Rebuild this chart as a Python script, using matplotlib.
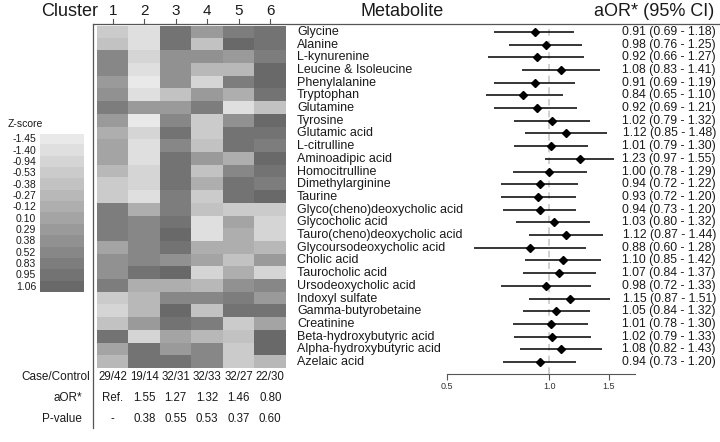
import numpy as np
import matplotlib
matplotlib.use("Agg")
from matplotlib import pyplot as plt
from matplotlib.colors import ListedColormap, BoundaryNorm
from matplotlib.lines import Line2D
from matplotlib.ticker import FixedLocator, NullLocator
import matplotlib.transforms as mtransforms

plt.rcParams["font.family"] = ["Liberation Sans", "DejaVu Sans"]

W, H = 720, 442

metabolites = ["Glycine", "Alanine", "L-kynurenine", "Leucine & Isoleucine", "Phenylalanine",
               "Tryptophan", "Glutamine", "Tyrosine", "Glutamic acid", "L-citrulline",
               "Aminoadipic acid", "Homocitrulline", "Dimethylarginine", "Taurine",
               "Glyco(cheno)deoxycholic acid", "Glycocholic acid", "Tauro(cheno)deoxycholic acid",
               "Glycoursodeoxycholic acid", "Cholic acid", "Taurocholic acid",
               "Ursodeoxycholic acid", "Indoxyl sulfate", "Gamma-butyrobetaine", "Creatinine",
               "Beta-hydroxybutyric acid", "Alpha-hydroxybutyric acid", "Azelaic acid"]

aor = [0.91, 0.98, 0.92, 1.08, 0.91, 0.84, 0.92, 1.02, 1.12, 1.01, 1.23, 1.00, 0.94, 0.93,
       0.94, 1.03, 1.12, 0.88, 1.10, 1.07, 0.98, 1.15, 1.05, 1.01, 1.02, 1.08, 0.94]
ci_low = [0.69, 0.76, 0.66, 0.83, 0.69, 0.65, 0.69, 0.79, 0.85, 0.79, 0.97, 0.78, 0.72, 0.72,
          0.73, 0.80, 0.87, 0.60, 0.85, 0.84, 0.72, 0.87, 0.84, 0.78, 0.79, 0.82, 0.73]
ci_high = [1.18, 1.25, 1.27, 1.41, 1.19, 1.10, 1.21, 1.32, 1.48, 1.30, 1.55, 1.29, 1.22, 1.20,
           1.20, 1.32, 1.44, 1.28, 1.42, 1.37, 1.33, 1.51, 1.32, 1.30, 1.33, 1.43, 1.20]

clusters = ["1", "2", "3", "4", "5", "6"]
case_control = ["29/42", "19/14", "32/31", "32/33", "32/27", "22/30"]
cluster_aor = ["Ref.", "1.55", "1.27", "1.32", "1.46", "0.80"]
p_values = ["-", "0.38", "0.55", "0.53", "0.37", "0.60"]

z_levels = [-1.45, -1.40, -0.94, -0.53, -0.38, -0.27, -0.12, 0.10, 0.29, 0.38, 0.52, 0.83, 0.95, 1.06]

# z-scores per metabolite (rows) and cluster (columns)
zscores = [
    [-0.53, -1.40, 0.95, 0.29, 0.83, 0.95],
    [-0.38, -1.40, 0.95, -0.38, 1.06, 0.95],
    [0.52, -0.94, 0.38, 0.38, 0.29, 0.83],
    [0.52, -1.40, 0.38, -0.27, -0.27, 1.06],
    [0.29, -1.45, 0.38, -0.94, 0.83, 1.06],
    [0.38, -1.40, -0.38, 0.29, -0.12, 0.95],
    [0.83, 0.29, 0.29, 0.83, -1.40, -0.38],
    [0.29, -1.45, 0.52, -0.53, 0.38, 1.06],
    [-0.12, -0.94, 0.95, -0.53, 0.95, 0.95],
    [0.10, -1.40, 0.52, -0.38, 0.95, 0.83],
    [0.10, -1.40, 0.95, 0.29, -0.12, 1.06],
    [-0.27, -0.94, 0.95, -0.38, 0.52, 0.95],
    [-0.53, -0.94, 0.95, -0.12, 0.95, 0.83],
    [-0.53, -1.40, 0.83, -0.53, 0.95, 1.06],
    [0.83, -0.12, 0.83, -0.38, -0.53, -0.53],
    [0.83, 0.52, 0.95, -1.40, 0.10, -0.94],
    [0.83, 0.52, 1.06, -1.40, -0.12, -0.94],
    [0.10, 0.52, 0.95, -0.12, -0.12, -0.27],
    [0.38, 0.52, 0.38, 0.10, -0.38, 0.29],
    [0.38, 0.95, 1.06, -0.94, -0.12, -0.94],
    [0.83, -0.12, -0.12, -0.27, 0.38, 0.52],
    [-0.53, -0.27, 0.52, 0.52, 0.83, 0.29],
    [-0.94, -0.27, 1.06, -0.38, 0.95, 0.95],
    [-0.38, 0.29, 0.95, 0.83, -0.53, 0.10],
    [0.95, -0.94, 0.10, -0.27, -0.38, 1.06],
    [0.10, 0.95, 0.29, 0.52, -0.53, 1.06],
    [-0.27, 0.95, 0.95, 0.52, -0.53, -0.27],
]

text_col = "#1a1a1a"


def box(x0, y0, x1, y1):
    # pixel box (top-left origin) -> figure fraction rect
    return [x0 / W, 1 - y1 / H, (x1 - x0) / W, (y1 - y0) / H]


def fx(x):
    return x / W


def fy(y):
    return 1 - y / H


fig = plt.figure(figsize=(W / 100, H / 100), dpi=100)

# grey step colour map
greys = np.linspace(0.915, 0.415, len(z_levels))
cmap = ListedColormap([str(g) for g in greys])
mids = [(a + b) / 2 for a, b in zip(z_levels[:-1], z_levels[1:])]
norm = BoundaryNorm([-3] + mids + [3], cmap.N)

# heatmap
top, row_h = 25.5, 12.7
n_rows = len(metabolites)
hm_left, hm_right = 97, 286
ax_hm = fig.add_axes(box(hm_left, top, hm_right, top + row_h * n_rows))
ax_hm.imshow(np.array(zscores), cmap=cmap, norm=norm, aspect="auto", interpolation="nearest")
ax_hm.set_axis_off()

col_w = (hm_right - hm_left) / len(clusters)
col_x = [hm_left + col_w * (i + 0.5) for i in range(len(clusters))]

# frame lines and cluster ticks
fig.add_artist(Line2D([fx(93), fx(720)], [fy(23.5), fy(23.5)], color="#555555", lw=0.9))
fig.add_artist(Line2D([fx(93), fx(93)], [fy(23.5), fy(428)], color="#555555", lw=0.9))
for x, c in zip(col_x, clusters):
    fig.add_artist(Line2D([fx(x), fx(x)], [fy(19), fy(23.5)], color="#555555", lw=0.8))
    fig.text(fx(x), fy(11), c, ha="center", va="center", fontsize=11, color=text_col)

fig.text(fx(98), fy(12), "Cluster", ha="right", va="center", fontsize=13, color=text_col)
fig.text(fx(402), fy(12), "Metabolite", ha="center", va="center", fontsize=13, color=text_col)
fig.text(fx(714), fy(12), "aOR* (95% CI)", ha="right", va="center", fontsize=13, color=text_col)

# table under heatmap
rows = [("Case/Control", case_control, 377, 90), ("aOR*", cluster_aor, 398, 82),
        ("P-value", p_values, 419, 82)]
for label, vals, y, xr in rows:
    fig.text(fx(xr), fy(y), label, ha="right", va="center", fontsize=8.5, color=text_col)
    for x, v in zip(col_x, vals):
        fig.text(fx(x), fy(y), v, ha="center", va="center", fontsize=8.3, color=text_col)

# colour key
cb_top, cb_bot = 133.5, 292.5
ax_cb = fig.add_axes(box(40, cb_top, 84, cb_bot))
ax_cb.imshow(np.array(z_levels).reshape(-1, 1), cmap=cmap, norm=norm, aspect="auto",
             interpolation="nearest")
ax_cb.set_axis_off()
step = (cb_bot - cb_top) / len(z_levels)
for i, z in enumerate(z_levels):
    fig.text(fx(36), fy(cb_top + step * (i + 0.5)), f"{z:.2f}", ha="right", va="center",
             fontsize=7.5, color=text_col)
fig.text(fx(8), fy(124), "Z-score", ha="left", va="center", fontsize=7.5, color=text_col)

# forest plot
axis_y = 374
ax_f = fig.add_axes(box(447, top, 635, axis_y))
ax_f.set_xscale("log")
ax_f.set_xlim(0.5, 1.79)
ax_f.set_ylim(n_rows - 0.5 + (axis_y - (top + row_h * n_rows)) / row_h, -0.5)
ypos = np.arange(n_rows)
ax_f.axvline(1.0, color="#c8c8c8", lw=1.2, ls=(0, (4, 3)), zorder=1)
ax_f.hlines(ypos, ci_low, ci_high, color="black", lw=1.1, zorder=2)
ax_f.plot(aor, ypos, "D", color="black", ms=4.5, zorder=3)
for s in ["left", "top", "right"]:
    ax_f.spines[s].set_visible(False)
ax_f.spines["bottom"].set_color("#555555")
ax_f.spines["bottom"].set_linewidth(0.8)
ax_f.xaxis.set_major_locator(FixedLocator([0.5, 1.0, 1.5]))
ax_f.xaxis.set_minor_locator(NullLocator())
ax_f.set_xticklabels(["0.5", "1.0", "1.5"])
ax_f.tick_params(axis="x", length=4, width=0.8, color="#555555", labelsize=6.5,
                 labelcolor="#333333", pad=2)
ax_f.set_yticks([])
ax_f.patch.set_alpha(0)

trans = mtransforms.blended_transform_factory(fig.transFigure, ax_f.transData)
for i, name in enumerate(metabolites):
    ax_f.text(fx(297), i, name, transform=trans, ha="left", va="center", fontsize=9,
              color=text_col, clip_on=False)
    ax_f.text(fx(716), i, f"{aor[i]:.2f} ({ci_low[i]:.2f} - {ci_high[i]:.2f})", transform=trans,
              ha="right", va="center", fontsize=8.8, color=text_col, clip_on=False)

fig.savefig("out.png", dpi=100)
